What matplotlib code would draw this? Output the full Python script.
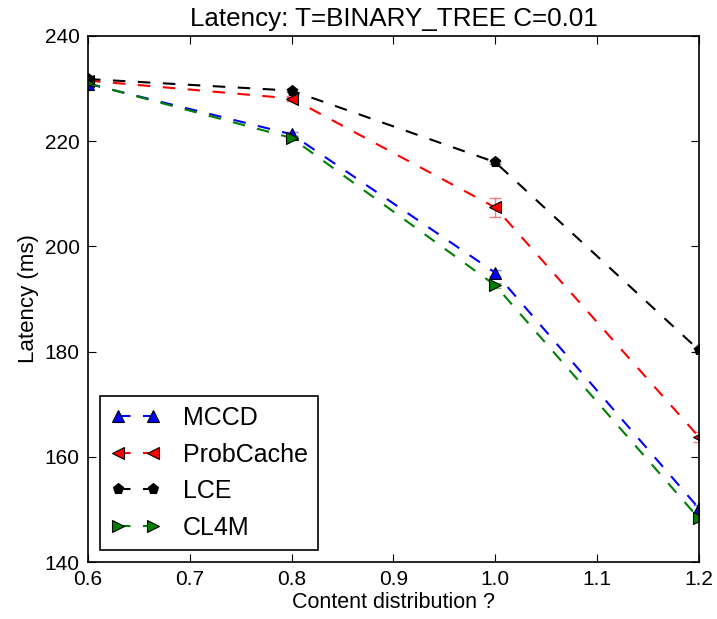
import matplotlib
matplotlib.use("Agg")
import matplotlib.pyplot as plt

plt.rcParams['font.family'] = ['Liberation Sans', 'DejaVu Sans']

x = [0.6, 0.8, 1.0, 1.2]
mccd = [230.9, 221.3, 195.0, 150.2]
mccd_err = [0.3, 0.4, 0.6, 0.6]
probcache = [231.5, 228.1, 207.4, 163.8]
probcache_err = [0.3, 0.4, 1.8, 1.0]
lce = [231.8, 229.6, 216.0, 180.3]
lce_err = [0.2, 0.3, 0.3, 0.4]
cl4m = [231.0, 220.6, 192.6, 148.3]
cl4m_err = [0.3, 0.4, 0.5, 0.6]

series = [
    ("MCCD", mccd, mccd_err, "blue", "^"),
    ("ProbCache", probcache, probcache_err, "red", "<"),
    ("LCE", lce, lce_err, "black", "p"),
    ("CL4M", cl4m, cl4m_err, "green", ">"),
]

fig = plt.figure(figsize=(7.17, 6.19), dpi=100)
ax = fig.add_axes([0.1227, 0.092, 0.852, 0.850])

for name, vals, err, col, mk in series:
    ax.errorbar(x, vals, yerr=err, fmt='none', ecolor=col, alpha=0.5, capsize=4, elinewidth=1)
    ax.plot(x, vals, linestyle='--', color=col, marker=mk, markersize=8,
            markeredgecolor='black', markeredgewidth=0.8, label=name, dashes=(6, 6))

ax.set_xlim(0.6, 1.2)
ax.set_ylim(140, 240)
ax.set_xticks([0.6, 0.7, 0.8, 0.9, 1.0, 1.1, 1.2])
ax.set_yticks([140, 160, 180, 200, 220, 240])
ax.tick_params(direction='in', top=True, right=True, labelsize=15, length=6, pad=6)
ax.set_title("Latency: T=BINARY_TREE C=0.01", fontsize=18.7, pad=7)
ax.set_xlabel("Content distribution ?", fontsize=15.5, labelpad=2)
ax.set_ylabel("Latency (ms)", fontsize=16, labelpad=4)
for s in ax.spines.values():
    s.set_linewidth(1.2)

leg = ax.legend(loc='lower left', numpoints=2, fontsize=18, fancybox=False,
                edgecolor='black', framealpha=1, borderpad=0.4, handlelength=2,
                handletextpad=0.9, labelspacing=0.5, borderaxespad=0.5)
leg.get_frame().set_linewidth(1.2)

fig.savefig("out.png", dpi=100)
